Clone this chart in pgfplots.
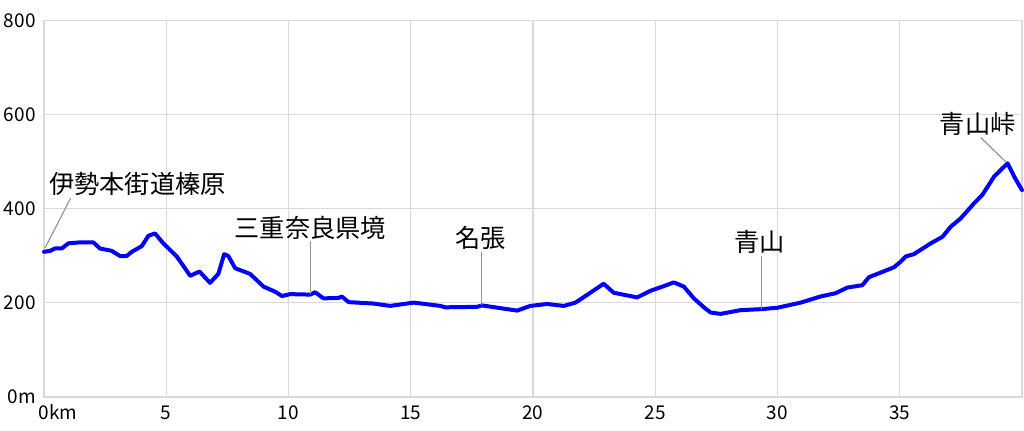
\documentclass[border=0pt]{standalone}
\usepackage{pgfplots}
\pgfplotsset{compat=1.18}
\usepackage{fontspec}
\setmainfont{Noto Sans CJK JP}
\definecolor{gridc}{RGB}{217,217,217}
\definecolor{leadc}{RGB}{150,150,150}
\begin{document}
\begin{tikzpicture}
\begin{axis}[
  scale only axis, width=489pt, height=188.2pt,
  xmin=0, xmax=40, ymin=0, ymax=800,
  xtick={0,5,...,40}, xticklabels={0\rlap{km},5,10,15,20,25,30,35,},
  ytick={0,200,...,800}, yticklabels={0m,200,400,600,800},
  major tick length=0pt,
  grid=major, grid style={draw=gridc, line width=0.6pt},
  axis line style={draw=gridc, line width=0.8pt},
  /pgf/number format/assume math mode=true,
  tick label style={font=\fontsize{9.5}{10}\selectfont},
  x tick label style={anchor=base, yshift=-11.6pt},
  y tick label style={anchor=east, inner sep=0pt, xshift=-4pt},
  clip=false,
]
\addplot[color={rgb,255:red,0;green,0;blue,255}, line width=2pt, line join=round, line cap=round] coordinates {
(0,308) (0.25,310) (0.45,315) (0.72,315) (1.0,326) (1.47,328) (2.02,328) (2.29,315)
(2.77,310) (3.11,299) (3.38,299) (3.59,308) (4.0,320) (4.27,342) (4.54,347) (4.88,326)
(5.43,298) (5.98,257) (6.36,266) (6.79,242) (7.13,261) (7.37,303) (7.54,299) (7.82,273)
(8.43,261) (8.98,234) (9.46,223) (9.73,214) (10.07,218) (10.89,217) (11.09,222) (11.43,209)
(12.05,210) (12.18,213) (12.46,201) (13.48,198) (14.16,193) (15.12,200) (16.21,193) (16.41,190)
(17.71,191) (17.92,194) (19.35,183) (19.89,193) (20.58,197) (21.26,193) (21.74,200) (22.89,240)
(23.3,221) (24.26,211) (24.8,225) (25.35,235) (25.76,243) (26.17,234) (26.58,209) (26.99,190)
(27.26,179) (27.67,176) (28.49,184) (29.31,186) (29.99,189) (30.95,200) (31.76,213) (32.38,220)
(32.86,232) (33.47,237) (33.74,254) (34.76,275) (35.04,287) (35.24,298) (35.58,303) (36.27,326)
(36.75,340) (37.08,361) (37.49,379) (38.04,411) (38.38,429) (38.86,468) (39.41,496) (39.68,468)
(40.0,439)
};
% leader lines
\draw[leadc, line width=0.6pt] (axis cs:0.04,316) -- (axis cs:1.09,422);
\draw[leadc, line width=0.6pt] (axis cs:10.89,218) -- (axis cs:10.89,331);
\draw[leadc, line width=0.6pt] (axis cs:17.9,195) -- (axis cs:17.9,308);
\draw[leadc, line width=0.6pt] (axis cs:29.35,186) -- (axis cs:29.35,298);
\draw[leadc, line width=0.6pt] (axis cs:38.31,551) -- (axis cs:39.34,499);
% labels
\node[anchor=west, inner sep=0pt, font=\fontsize{12.6}{13}\selectfont] at (axis cs:0.2,452) {伊勢本街道榛原};
\node[inner sep=0pt, font=\fontsize{12.6}{13}\selectfont] at (axis cs:10.89,358) {三重奈良県境};
\node[inner sep=0pt, font=\fontsize{12.6}{13}\selectfont] at (axis cs:17.87,338) {名張};
\node[inner sep=0pt, font=\fontsize{12.6}{13}\selectfont] at (axis cs:29.27,329) {青山};
\node[inner sep=0pt, font=\fontsize{12.6}{13}\selectfont] at (axis cs:38.19,580) {青山峠};
\coordinate (o) at (rel axis cs:0,0);
\end{axis}
\pgfresetboundingbox
\path[use as bounding box] ([shift={(-22pt,-16.65pt)}]o) rectangle ++(512pt,215pt);
\end{tikzpicture}
\end{document}
